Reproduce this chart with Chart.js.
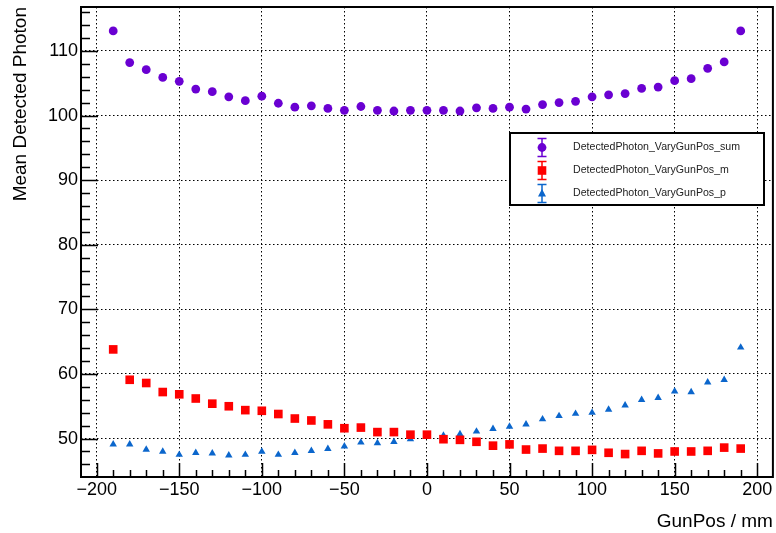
<!DOCTYPE html>
<html><head><meta charset="utf-8">
<script src="https://cdn.jsdelivr.net/npm/chart.js@4/dist/chart.umd.min.js"></script>
<style>html,body{margin:0;padding:0;background:#fff;overflow:hidden}#wrap{width:779px;height:533px;position:relative}canvas{display:block}</style>
</head><body><div id="wrap"><canvas id="c"></canvas></div>
<script>
// ---- data ----
const gunPos = [-190,-180,-170,-160,-150,-140,-130,-120,-110,-100,-90,-80,-70,-60,-50,-40,-30,-20,-10,0,10,20,30,40,50,60,70,80,90,100,110,120,130,140,150,160,170,180,190];
const sumValues = [113.1,108.2,107.1,105.9,105.3,104.1,103.7,102.9,102.3,103.0,101.9,101.3,101.5,101.1,100.8,101.4,100.8,100.7,100.8,100.8,100.8,100.7,101.2,101.1,101.3,101.0,101.7,102.0,102.2,102.9,103.2,103.4,104.2,104.4,105.4,105.7,107.3,108.3,113.1];
const mValues = [63.8,59.1,58.6,57.2,56.85,56.2,55.4,55.0,54.4,54.3,53.8,53.1,52.8,52.2,51.6,51.7,51.0,51.0,50.6,50.6,49.9,49.8,49.5,48.9,49.1,48.3,48.45,48.1,48.1,48.25,47.8,47.6,48.1,47.7,48.0,48.0,48.1,48.6,48.45];
const pValues = [49.1,49.1,48.3,48.0,47.5,47.8,47.7,47.4,47.5,48.0,47.5,47.8,48.1,48.4,48.8,49.4,49.3,49.5,49.9,50.45,50.45,50.7,51.1,51.5,51.85,52.2,53.0,53.5,53.85,54.0,54.5,55.15,56.0,56.3,57.3,57.2,58.7,59.1,64.1];
const xTickValues = [-200,-150,-100,-50,0,50,100,150,200];
const yTickValues = [50,60,70,80,90,100,110];
const seriesNames = ['DetectedPhoton_VaryGunPos_sum','DetectedPhoton_VaryGunPos_m','DetectedPhoton_VaryGunPos_p'];
const xTitle = 'GunPos / mm';
const yTitle = 'Mean Detected Photon';

// ---- style ----
const FAMILY = "'Liberation Sans', Arial, Helvetica, sans-serif";
const PURPLE = '#6a00d2', RED = '#ff0000', BLUE = '#0b66cc';
const fmt = v => v < 0 ? '\u2212' + Math.abs(v) : String(v);

const rootStyle = {
  id: 'rootStyle',
  afterDraw(chart) {
    const ctx = chart.ctx, a = chart.chartArea, xs = chart.scales.x, ys = chart.scales.y;
    ctx.save();
    ctx.strokeStyle = '#000';
    ctx.lineWidth = 1.5;
    ctx.beginPath();
    for (let v = -200; v <= 200; v += 10) {
      const px = Math.round(xs.getPixelForValue(v)) + 0.5;
      const len = (v % 50 === 0) ? 14 : 7;
      ctx.moveTo(px, a.bottom); ctx.lineTo(px, a.bottom - len);
    }
    for (let v = 46; v <= 116; v += 2) {
      const py = Math.round(ys.getPixelForValue(v)) + 0.5;
      const len = (v % 10 === 0) ? 17 : 9;
      ctx.moveTo(a.left, py); ctx.lineTo(a.left + len, py);
    }
    ctx.stroke();
    // frame
    ctx.lineWidth = 2;
    ctx.strokeRect(a.left, a.top, a.right - a.left, a.bottom - a.top);

    // legend (ROOT TLegend style)
    const bx1 = 510, by1 = 133, bx2 = 764, by2 = 205;
    ctx.fillStyle = '#fff';
    ctx.fillRect(bx1, by1, bx2 - bx1, by2 - by1);
    ctx.lineWidth = 2;
    ctx.strokeStyle = '#000';
    ctx.strokeRect(bx1, by1, bx2 - bx1, by2 - by1);
    const rows = [147.5, 170.5, 193.5];
    const sx = 542, tx = 573;
    chart.data.datasets.forEach((ds, i) => {
      const y = rows[i], col = ds.backgroundColor;
      ctx.strokeStyle = col; ctx.fillStyle = col; ctx.lineWidth = 1.5;
      ctx.beginPath();
      ctx.moveTo(sx, y - 9); ctx.lineTo(sx, y + 9);
      ctx.moveTo(sx - 4.5, y - 9); ctx.lineTo(sx + 4.5, y - 9);
      ctx.moveTo(sx - 4.5, y + 9); ctx.lineTo(sx + 4.5, y + 9);
      ctx.stroke();
      ctx.beginPath();
      if (ds.pointStyle === 'circle') { ctx.arc(sx, y, 4.4, 0, Math.PI * 2); }
      else if (ds.pointStyle === 'rect') { ctx.rect(sx - 4.3, y - 4.3, 8.6, 8.6); }
      else { ctx.moveTo(sx, y - 4.5); ctx.lineTo(sx + 4, y + 3); ctx.lineTo(sx - 4, y + 3); ctx.closePath(); }
      ctx.fill();
      ctx.fillStyle = '#222';
      ctx.font = '10.6px ' + FAMILY;
      ctx.textBaseline = 'middle';
      ctx.textAlign = 'left';
      ctx.fillText(ds.label, tx, y);
    });
    ctx.restore();
  }
};

const toPts = vals => gunPos.map((x, i) => ({x: x, y: vals[i]}));

new Chart(document.getElementById('c'), {
  type: 'scatter',
  data: {
    datasets: [
      {label: seriesNames[0], data: toPts(sumValues), pointStyle: 'circle', pointRadius: 4.4, backgroundColor: PURPLE, borderColor: PURPLE, borderWidth: 0},
      {label: seriesNames[1], data: toPts(mValues), pointStyle: 'rect', pointRadius: 6.1, backgroundColor: RED, borderColor: RED, borderWidth: 0},
      {label: seriesNames[2], data: toPts(pValues), pointStyle: 'triangle', pointRadius: 4.3, backgroundColor: BLUE, borderColor: BLUE, borderWidth: 0}
    ]
  },
  options: {
    responsive: true, maintainAspectRatio: false, animation: false, devicePixelRatio: 1,
    layout: {padding: {top: 7, right: 2, left: 0, bottom: 0}},
    plugins: {legend: {display: false}, tooltip: {enabled: false}},
    scales: {
      x: {
        type: 'linear', min: -209.5, max: 209.5,
        afterBuildTicks: s => { s.ticks = xTickValues.map(v => ({value: v})); },
        afterFit: s => { s.height = 56; s.paddingLeft = 0; s.paddingRight = 0; },
        grid: {color: '#000', lineWidth: 1, drawTicks: false},
        border: {display: false, dash: [1.5, 2.5]},
        ticks: {padding: 2, color: '#000', maxRotation: 0, autoSkip: false, font: {size: 18, family: FAMILY}, callback: v => fmt(v)},
        title: {display: true, text: xTitle, align: 'end', color: '#000', font: {size: 19, family: FAMILY}, padding: {top: 0, bottom: 0}}
      },
      y: {
        type: 'linear', min: 44.05, max: 116.8,
        afterBuildTicks: s => { s.ticks = yTickValues.map(v => ({value: v})); },
        afterFit: s => { s.width = 81; s.paddingTop = 0; s.paddingBottom = 0; },
        grid: {color: '#000', lineWidth: 1, drawTicks: false},
        border: {display: false, dash: [1.5, 2.5]},
        ticks: {padding: 3, color: '#000', autoSkip: false, font: {size: 18, family: FAMILY}, callback: v => fmt(v)},
        title: {display: true, text: yTitle, align: 'end', color: '#000', font: {size: 19, family: FAMILY}, padding: {top: 9, bottom: 0}}
      }
    }
  },
  plugins: [rootStyle]
});
</script>
</body></html>
